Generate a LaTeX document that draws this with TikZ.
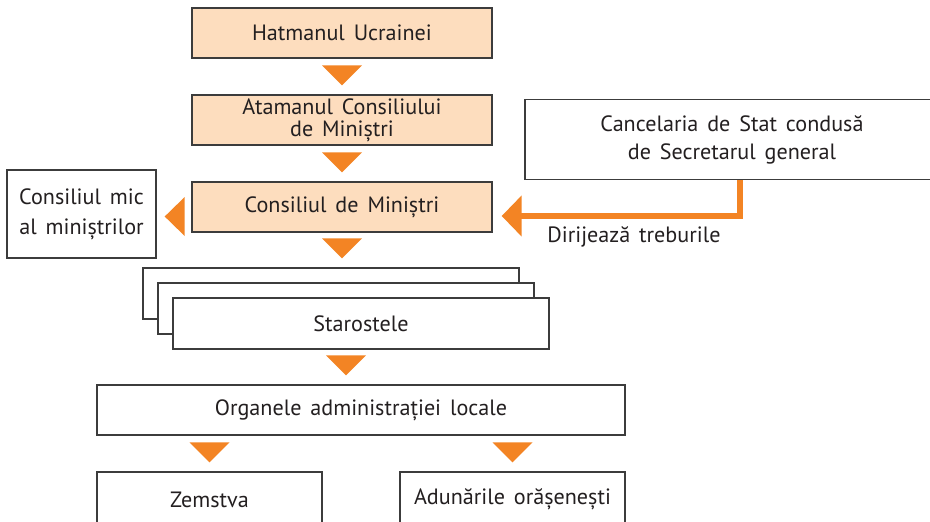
\documentclass[tikz,border=0pt]{standalone}
\usepackage{fontspec}
\setmainfont[WordSpace=1.5]{PT Sans}
\usepackage{tikz}
\usetikzlibrary{arrows.meta, positioning, calc}
\definecolor{colOrange}{RGB}{243, 132, 36}
\definecolor{colPeach}{RGB}{253, 221, 190}
\definecolor{colLine}{RGB}{60, 60, 60}
\definecolor{colText}{RGB}{35, 31, 32}

% orange triangle above a box (x from #1, top edge of #2)
\newcommand{\triDown}[2]{%
    \fill[colOrange] ($(#1.center |- #2.north)+(0,-9)$) -- ++(-20,-20) -- ++(40,0) -- cycle;
}

\begin{document}
\begin{tikzpicture}[x=0.02cm, y=-0.02cm,
    every node/.style={font=\fontsize{12.6}{16}\selectfont, text=colText},
    box/.style={draw=colLine, line width=0.8pt, align=center, inner sep=0pt, fill=white},
    rank/.style={box, fill=colPeach, minimum width=6cm, minimum height=1cm},
    staro/.style={box, minimum width=7.52cm, minimum height=1.02cm},
    local/.style={box, minimum width=4.5cm, minimum height=1.1cm}]

    \useasboundingbox (0,0) rectangle (930,521);
    \clip (0,0) rectangle (930,521);

    % --- Conducerea centrala ---
    \node[rank] (hatman) at (342, 33) {Hatmanul Ucrainei};
    \node[rank, font=\fontsize{12.6}{12.5}\selectfont] (ataman) at (342, 120) {Atamanul Consiliului\\de Miniștri};
    \node[rank] (cons) at (342, 207) {Consiliul de Miniștri};

    \node[box, minimum width=2.98cm, minimum height=1.76cm, font=\fontsize{12.6}{17}\selectfont] (mic) at (81.5, 214) {Consiliul mic\\al miniștrilor};
    \node[box, minimum width=8.28cm, minimum height=1.6cm] (cancel) at (732, 139.5) {Cancelaria de Stat condusă\\de Secretarul general};

    \triDown{hatman}{ataman}
    \triDown{ataman}{cons}

    % sageata spre consiliul mic
    \fill[colOrange] ($(mic.east)+(8,2.5)$) -- ++(20,-19.5) -- ++(0,39) -- cycle;

    % --- Cancelaria ---
    \draw[colOrange, line width=3.2pt, -{Triangle[width=0.8cm, length=0.4cm]}]
        ($(cancel.south)+(8,0)$) |- ($(cons.east)+(9,9)$);
    \node (dirij) at (634, 237) {Dirijează treburile};

    % --- Starostele (3 cutii) ---
    \node[staro] (stacka) at (331, 293.5) {};
    \node[staro] (stackb) at (346, 308.5) {};
    \node[staro] (stackc) at (361, 323.5) {Starostele};
    \triDown{cons}{stacka}

    % --- Administratia locala ---
    \node[box, minimum width=10.56cm, minimum height=1cm] (organe) at (361, 410) {Organele administrației locale};
    \triDown{stackb}{organe}

    \node[local] (zemstva) at (209.5, 499.5) {Zemstva};
    \node[local] (adun) at (512.5, 499.5) {Adunările orășenești};
    \triDown{zemstva}{zemstva}
    \triDown{adun}{adun}

\end{tikzpicture}
\end{document}
